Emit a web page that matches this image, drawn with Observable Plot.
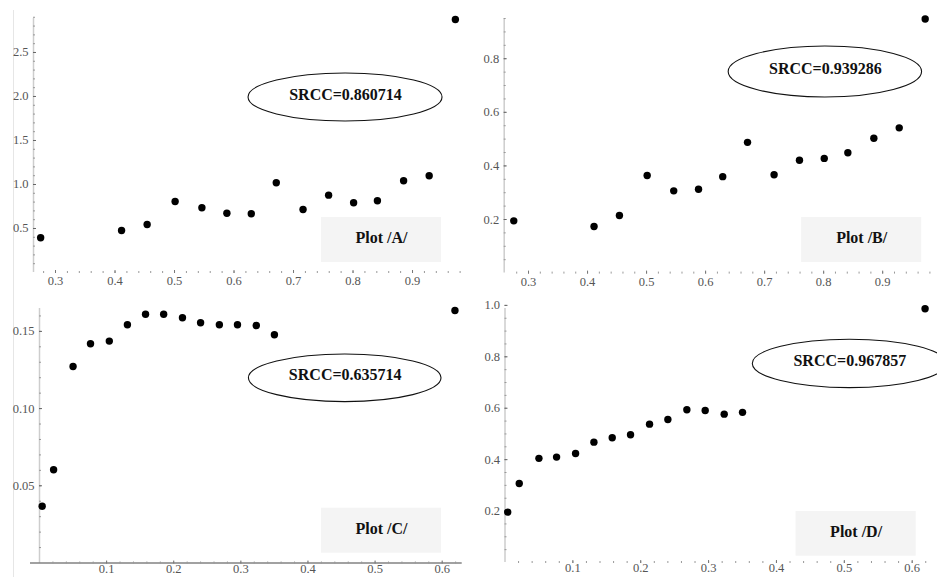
<!DOCTYPE html>
<html><head><meta charset="utf-8">
<script src="https://cdn.jsdelivr.net/npm/d3@7"></script>
<script src="https://cdn.jsdelivr.net/npm/@observablehq/plot@0.6"></script>
<style>
html,body{margin:0;padding:0;background:#fff;width:937px;height:577px;overflow:hidden;}
#root{position:relative;width:937px;height:577px;}
.panel{position:absolute;}
.panel text{font-family:"Liberation Serif","Times New Roman",serif;}
.edge{position:absolute;left:13px;top:10px;width:1px;height:567px;background:#e6e6e6;}
</style></head><body><div id="root"><div class="edge"></div></div>
<script>
// ---- data ----
const xAB = [0.275, 0.411, 0.454, 0.501, 0.546, 0.588, 0.629, 0.671, 0.716, 0.759, 0.801, 0.841, 0.885, 0.928, 0.972];
const yA  = [0.394, 0.477, 0.545, 0.807, 0.735, 0.674, 0.667, 1.019, 0.716, 0.879, 0.792, 0.815, 1.042, 1.099, 2.875];
const yB  = [0.195, 0.174, 0.215, 0.364, 0.307, 0.313, 0.360, 0.488, 0.367, 0.421, 0.428, 0.449, 0.503, 0.542, 0.948];
const xCD = [0.004, 0.021, 0.050, 0.076, 0.104, 0.131, 0.158, 0.185, 0.213, 0.240, 0.268, 0.295, 0.323, 0.350, 0.619];
const yC  = [0.0368, 0.0604, 0.1273, 0.1420, 0.1437, 0.1543, 0.1611, 0.1611, 0.1588, 0.1556, 0.1543, 0.1543, 0.1538, 0.1478, 0.1635];
const yD  = [0.196, 0.307, 0.405, 0.410, 0.424, 0.468, 0.485, 0.497, 0.538, 0.556, 0.594, 0.591, 0.577, 0.584, 0.987];
const srccTexts  = ["SRCC=0.860714", "SRCC=0.939286", "SRCC=0.635714", "SRCC=0.967857"];
const plotLabels = ["Plot /A/", "Plot /B/", "Plot /C/", "Plot /D/"];
const xTicksAB = [0.3, 0.4, 0.5, 0.6, 0.7, 0.8, 0.9];
const xTicksCD = [0.1, 0.2, 0.3, 0.4, 0.5, 0.6];
const yTicksA = [0.5, 1.0, 1.5, 2.0, 2.5];
const yTicksB = [0.2, 0.4, 0.6, 0.8];
const yTicksC = [0.05, 0.10, 0.15];
const yTicksD = [0.2, 0.4, 0.6, 0.8, 1.0];

const FONT = "'Liberation Serif', 'Times New Roman', serif";
const svgNS = "http://www.w3.org/2000/svg";

function ellipseMark(e) {
  return (index, scales) => {
    const el = document.createElementNS(svgNS, "ellipse");
    el.setAttribute("cx", scales.x(e.cx));
    el.setAttribute("cy", scales.y(e.cy));
    el.setAttribute("rx", e.rx);
    el.setAttribute("ry", e.ry);
    el.setAttribute("fill", "none");
    el.setAttribute("stroke", "#111");
    el.setAttribute("stroke-width", 1.1);
    return el;
  };
}

function panel(cfg) {
  const data = cfg.xs.map((x, i) => ({x, y: cfg.ys[i]}));
  const [x0, x1] = cfg.xDomain, [y0, y1] = cfg.yDomain;
  const b = cfg.box, e = cfg.ellipse;
  const marks = [
    Plot.rect([b], {x1: "x1", x2: "x2", y1: "y1", y2: "y2", fill: "#f4f4f4"}),
    Plot.text([b], {x: d => (d.x1 + d.x2) / 2, y: d => (d.y1 + d.y2) / 2, text: () => cfg.label,
      dy: -2, fontFamily: FONT, fontWeight: "bold", fontSize: 16, fill: "#111"}),
    ellipseMark(e),
    Plot.text([e], {x: "cx", y: "cy", text: () => cfg.srcc, dy: -3,
      fontFamily: FONT, fontWeight: "bold", fontSize: 16, fill: "#111"}),
    Plot.ruleX([x0], {y1: y0, y2: y1, stroke: "#cdcdcd", strokeWidth: 1.5, insetBottom: -8}),
    cfg.xLine ? Plot.ruleY([y0], {x1: x0, x2: x1, stroke: "#444", strokeWidth: 1.2, insetLeft: -9}) : null,
    Plot.axisX({ticks: cfg.xMinor, tickSize: 2, dy: -1, fill: "none", stroke: "#999", label: null}),
    Plot.axisX({ticks: cfg.xTicks, tickSize: 3, dy: -2, fill: "none", stroke: "#777", label: null}),
    Plot.axisX({ticks: cfg.xTicks, tickSize: 0, tickPadding: cfg.xPad, tickFormat: d3.format(".1f"),
      fill: "#555", fontFamily: FONT, fontSize: 12.5, label: null}),
    Plot.axisY({ticks: cfg.yMinor, tickSize: 2, dx: 2, fill: "none", stroke: "#999", label: null}),
    Plot.axisY({ticks: cfg.yTicks, tickSize: 3, dx: 3, fill: "none", stroke: "#666", label: null}),
    Plot.axisY({ticks: cfg.yTicks, tickSize: 0, tickPadding: 5, tickFormat: d3.format(cfg.yFmt),
      fill: "#555", fontFamily: FONT, fontSize: 12.5, label: null}),
    Plot.dot(data, {x: "x", y: "y", r: 3.7, fill: "#000", stroke: "none"})
  ].filter(Boolean);
  const svg = Plot.plot({
    width: cfg.width, height: cfg.height,
    marginLeft: cfg.m[0], marginRight: cfg.m[1], marginTop: cfg.m[2], marginBottom: cfg.m[3],
    x: {domain: cfg.xDomain},
    y: {domain: cfg.yDomain},
    style: {background: "transparent", overflow: "visible", fontSize: "12.5px", color: "#555"},
    marks
  });
  svg.classList.add("panel");
  svg.style.left = cfg.left + "px";
  svg.style.top = cfg.top + "px";
  document.getElementById("root").appendChild(svg);
}

const rng = (a, b, s) => d3.range(a, b + 1).map(i => +(i * s).toFixed(4));

panel({
  xs: xAB, ys: yA, srcc: srccTexts[0], label: plotLabels[0],
  left: 0, top: 0, width: 468, height: 290, m: [33, 5.4, 10, 18],
  xDomain: [0.263, 0.985], yDomain: [0, 2.977],
  xTicks: xTicksAB, xMinor: rng(14, 49, 0.02), yTicks: yTicksA, yMinor: rng(1, 29, 0.1), yFmt: ".1f",
  xPad: 4, xLine: false,
  ellipse: {cx: 0.7874, cy: 1.989, rx: 97, ry: 24},
  box: {x1: 0.747, x2: 0.9487, y1: 0.1136, y2: 0.625}
});
panel({
  xs: xAB, ys: yB, srcc: srccTexts[1], label: plotLabels[1],
  left: 467, top: 0, width: 470, height: 290, m: [36.7, 7, 10, 17.4],
  xDomain: [0.2588, 0.981], yDomain: [0, 0.98],
  xTicks: xTicksAB, xMinor: rng(14, 49, 0.02), yTicks: yTicksB, yMinor: rng(1, 19, 0.05), yFmt: ".1f",
  xPad: 4, xLine: false,
  ellipse: {cx: 0.8029, cy: 0.7504, rx: 96.7, ry: 25.5},
  box: {x1: 0.7627, x2: 0.9661, y1: 0.0396, y2: 0.2075}
});
panel({
  xs: xCD, ys: yC, srcc: srccTexts[2], label: plotLabels[2],
  left: 0, top: 290, width: 468, height: 287, m: [39, 6.3, 10, 14.5],
  xDomain: [0, 0.6298], yDomain: [0, 0.17],
  xTicks: xTicksCD, xMinor: rng(1, 31, 0.02), yTicks: yTicksC, yMinor: rng(1, 16, 0.01), yFmt: ".2f",
  xPad: 1, xLine: true,
  ellipse: {cx: 0.4555, cy: 0.1196, rx: 96.3, ry: 23.8},
  box: {x1: 0.4202, x2: 0.5989, y1: 0.00635, y2: 0.0355}
});
panel({
  xs: xCD, ys: yD, srcc: srccTexts[3], label: plotLabels[3],
  left: 467, top: 290, width: 470, height: 287, m: [37.5, 7, 10, 15],
  xDomain: [0, 0.627], yDomain: [0, 1.019],
  xTicks: xTicksCD, xMinor: rng(1, 31, 0.02), yTicks: yTicksD, yMinor: rng(1, 20, 0.05), yFmt: ".1f",
  xPad: 1, xLine: false,
  ellipse: {cx: 0.5081, cy: 0.7724, rx: 97, ry: 24.2},
  box: {x1: 0.4289, x2: 0.6059, y1: 0.0245, y2: 0.1984}
});
</script>
</body></html>
